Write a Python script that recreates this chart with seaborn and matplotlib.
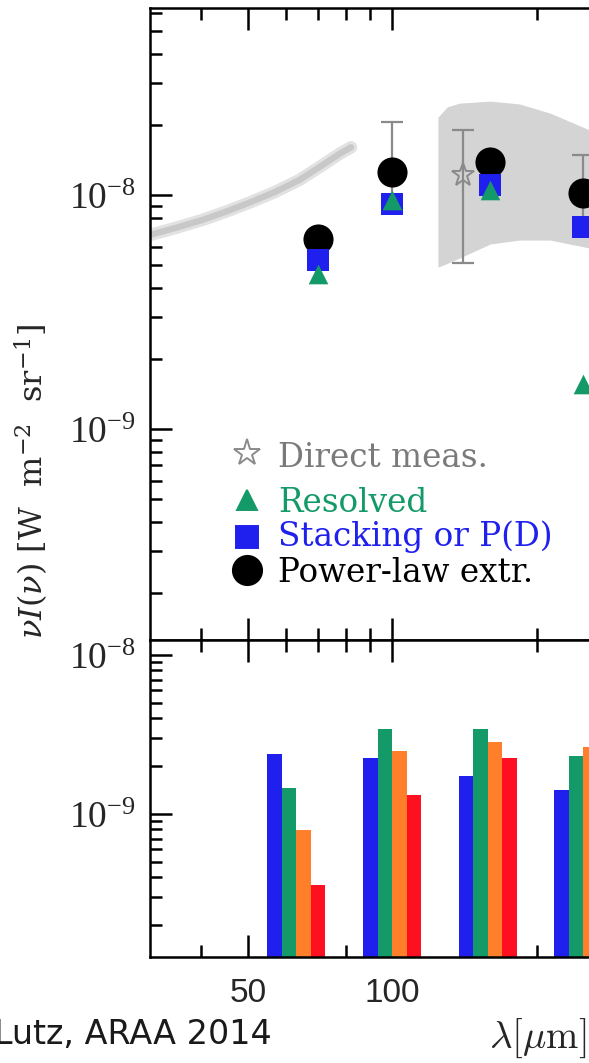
import numpy as np
import matplotlib
matplotlib.use("Agg")
import matplotlib.pyplot as plt
import seaborn as sns
from matplotlib.ticker import FixedLocator, LogLocator, FuncFormatter, NullFormatter

# ---------------------------------------------------------------- data
# far-IR background points (W m^-2 sr^-1) at the PACS/SPIRE bands (micron)
wave_pts = [70, 100, 160, 250]
powerlaw = [6.5e-9, 1.25e-8, 1.39e-8, 1.02e-8]
stacking = [5.3e-9, 9.15e-9, 1.10e-8, 7.3e-9]
resolved = [4.58e-9, 9.5e-9, 1.05e-8, 1.56e-9]

# direct (absolute) measurements with their error ranges
direct_wave = [100, 140, 250]
direct_val = [1.25e-8, 1.22e-8, 1.0e-8]
direct_lo = [9.0e-9, 5.12e-9, 7.5e-9]
direct_hi = [2.05e-8, 1.90e-8, 1.48e-8]

# FIRAS spectrum uncertainty band
band_wave = [124.4, 130, 138, 160, 184, 213, 257, 300]
band_lo = [4.92e-9, 5.1e-9, 5.38e-9, 6.18e-9, 6.42e-9, 6.42e-9, 5.94e-9, 5.5e-9]
band_hi = [2.15e-8, 2.38e-8, 2.47e-8, 2.52e-8, 2.45e-8, 2.24e-8, 1.90e-8, 1.7e-8]

# mid-IR background curve
curve_wave = [30, 35.2, 40, 44.8, 50.5, 56.9, 64, 70.6, 78, 82]
curve_val = [6.6e-9, 7.22e-9, 7.8e-9, 8.46e-9, 9.3e-9, 1.03e-8, 1.16e-8, 1.32e-8,
             1.51e-8, 1.60e-8]

# lower panel: bars per band
bar_wave = [63, 100, 158, 250]
bar_blue = [2.38e-9, 2.25e-9, 1.73e-9, 1.42e-9]
bar_green = [1.46e-9, 3.43e-9, 3.43e-9, 2.32e-9]
bar_orange = [7.9e-10, 2.49e-9, 2.84e-9, 2.64e-9]
bar_red = [3.57e-10, 1.32e-9, 2.25e-9, np.nan]

x_major = [50, 100, 500]
x_minor = [40, 60, 70, 80, 90, 200, 300, 400, 600, 700, 800, 900]

# ---------------------------------------------------------------- style
sns.set_style("ticks")
plt.rcParams["font.family"] = ["DejaVu Serif"]
plt.rcParams["mathtext.fontset"] = "custom"
plt.rcParams["mathtext.rm"] = "Liberation Serif"
plt.rcParams["mathtext.it"] = "Liberation Serif:italic"
plt.rcParams["axes.linewidth"] = 1.8

GREEN = "#149a68"
BLUE = "#2020ee"
ORANGE = "#ff7f2a"
RED = "#ff1020"
GREY = "#8a8a8a"

W, H = 589, 1063
fig = plt.figure(figsize=(W / 100, H / 100), dpi=100)
L, R = 150, 860
ax1 = fig.add_axes([L / W, (H - 640) / H, (R - L) / W, (640 - 8) / H])
ax2 = fig.add_axes([L / W, (H - 957) / H, (R - L) / W, (957 - 640) / H])

for ax in (ax1, ax2):
    ax.set_xscale("log")
    ax.set_yscale("log")
    ax.set_xlim(31.26, 942)
    ax.xaxis.set_major_locator(FixedLocator(x_major))
    ax.xaxis.set_minor_locator(FixedLocator(x_minor))
    ax.yaxis.set_major_locator(LogLocator(base=10))
    ax.yaxis.set_minor_locator(LogLocator(base=10, subs=np.arange(2, 10)))
    ax.yaxis.set_major_formatter(FuncFormatter(lambda v, p: r"$10^{%d}$" % round(np.log10(v))))
    ax.yaxis.set_minor_formatter(NullFormatter())
    ax.xaxis.set_minor_formatter(NullFormatter())
    ax.tick_params(which="both", direction="in", top=True, right=True, width=1.8, color="black")
    ax.tick_params(which="major", length=16)
    ax.tick_params(which="minor", length=8.5)
    ax.tick_params(axis="y", which="major", labelsize=27, pad=10)
    for sp in ax.spines.values():
        sp.set_color("black")

ax1.set_ylim(1.254e-10, 6.30e-8)
ax2.set_ylim(1.26e-10, 1.242e-8)
ax1.tick_params(axis="x", labelbottom=False)
ax2.xaxis.set_major_formatter(FuncFormatter(lambda v, p: "%d" % v if v < 300 else ""))
ax2.tick_params(axis="x", which="major", labelsize=24, pad=15)
for lab in ax2.get_xticklabels():
    lab.set_fontfamily("Liberation Sans")

# ---------------------------------------------------------------- upper panel
ax1.fill_between(band_wave, band_lo, band_hi, color="#d4d4d4", lw=0, zorder=1)
sns.lineplot(x=curve_wave, y=curve_val, ax=ax1, color="#e2e2e2", lw=9, zorder=1)
sns.lineplot(x=curve_wave, y=curve_val, ax=ax1, color="#c8c8c8", lw=4.5, zorder=1)

yerr = [np.array(direct_val) - np.array(direct_lo), np.array(direct_hi) - np.array(direct_val)]
ax1.errorbar(direct_wave, direct_val, yerr=yerr, fmt="none", ecolor=GREY,
             elinewidth=1.6, capsize=8, capthick=1.6, zorder=2)
ax1.plot(direct_wave, direct_val, ls="none", marker="*", ms=17, mfc="none",
         mec=GREY, mew=1.4, zorder=2)

sns.scatterplot(x=wave_pts, y=powerlaw, ax=ax1, marker="o", color="black", s=470,
                linewidth=0, zorder=4)
sns.scatterplot(x=wave_pts, y=stacking, ax=ax1, marker="s", color=BLUE, s=270,
                linewidth=0, zorder=5)
sns.scatterplot(x=wave_pts, y=resolved, ax=ax1, marker="^", color=GREEN, s=200,
                linewidth=0, zorder=6)


def axc(px, py):
    return (px - L) / (R - L), (640 - py) / (640 - 8)


leg = [
    ("*", "none", GREY, 20, "Direct meas.", "#7a7a7a", 453, 467),
    ("^", GREEN, GREEN, 15, "Resolved", GREEN, 500, 512),
    ("s", BLUE, BLUE, 16, "Stacking or P(D)", BLUE, 537, 546),
    ("o", "black", "black", 21, "Power-law extr.", "black", 570, 582),
]
for mk, fc, ec, ms, txt, tc, my, by in leg:
    ax1.plot(*axc(247, my), marker=mk, ms=ms, mfc=fc, mec=ec, mew=1.4,
             transform=ax1.transAxes, ls="none", clip_on=False)
    ax1.text(*axc(278, by), txt, color=tc, fontsize=23.5, ha="left", va="baseline",
             family="DejaVu Serif", transform=ax1.transAxes)

# ---------------------------------------------------------------- lower panel
bw = 0.0302
base = 1e-11
for i, (vals, col) in enumerate(zip([bar_blue, bar_green, bar_orange, bar_red],
                                    [BLUE, GREEN, ORANGE, RED])):
    lc = np.log10(bar_wave)
    left = 10 ** (lc + (i - 2) * bw)
    right = 10 ** (lc + (i - 1) * bw)
    h = np.array(vals) - base
    ax2.bar(left, h, width=right - left, bottom=base, align="edge", color=col,
            lw=0, zorder=1)

# ---------------------------------------------------------------- labels
fig.text(32 / W, 1 - 482 / H, r"$\nu I(\nu)$ [W  m$^{-2}$  sr$^{-1}$]", rotation=90,
         ha="center", va="center", fontsize=23, family="DejaVu Serif",
         math_fontfamily="dejavuserif")
fig.text(586 / W, 1 - 1038 / H, r"$\lambda[\mu\mathrm{m}]$", ha="right", va="center",
         fontsize=28, math_fontfamily="cm")
fig.text(272 / W, 1 - 1034 / H, "Lutz, ARAA 2014", ha="right", va="center",
         fontsize=24, family="DejaVu Sans", color="#1a1a1a")

fig.savefig("out.png", dpi=100)
